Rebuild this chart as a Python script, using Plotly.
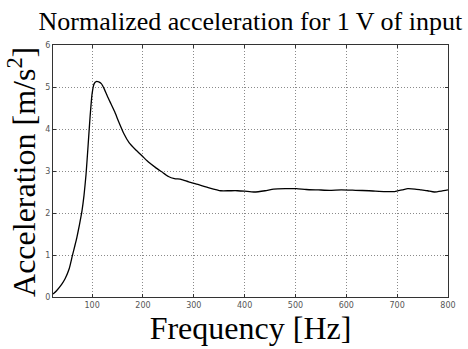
import plotly.graph_objects as go

# Measured frequency response (acceleration per 1 V input)
freq_hz = [23, 30, 40, 47, 55, 61, 66, 70, 75, 80, 84, 88, 92, 96, 100, 104, 108, 113,
           118, 124, 130, 137, 144, 152, 162, 173, 186, 199, 212, 225, 237, 250,
           262, 275, 290, 308, 330, 353, 370, 386, 400, 418, 440, 457, 480, 502,
           521, 545, 567, 590, 618, 645, 676, 695, 710, 721, 735, 747, 760, 773,
           787, 800]
accel = [0.07, 0.15, 0.30, 0.44, 0.68, 0.98, 1.22, 1.42, 1.72, 2.05, 2.42, 2.92, 3.60,
         4.30, 4.85, 5.08, 5.13, 5.12, 5.08, 4.95, 4.78, 4.60, 4.42, 4.18, 3.90,
         3.67, 3.50, 3.35, 3.20, 3.08, 2.98, 2.87, 2.82, 2.80, 2.74, 2.68, 2.60,
         2.53, 2.53, 2.53, 2.52, 2.50, 2.53, 2.57, 2.58, 2.58, 2.56, 2.55, 2.54,
         2.55, 2.54, 2.53, 2.51, 2.51, 2.55, 2.58, 2.57, 2.55, 2.53, 2.50, 2.52,
         2.55]

x_ticks = [100, 200, 300, 400, 500, 600, 700, 800]
y_ticks = [0, 1, 2, 3, 4, 5, 6]

serif = "Liberation Serif, Times New Roman, serif"
tick_font = dict(family="DejaVu Sans, sans-serif", size=8, color="#555555")

fig = go.Figure()
fig.add_trace(go.Scatter(x=freq_hz, y=accel, mode="lines",
                         line=dict(color="black", width=1.3, shape="spline", smoothing=0.5),
                         showlegend=False))

axis_common = dict(showline=True, linecolor="#333333", linewidth=1, mirror="allticks",
                   ticks="inside", ticklen=3, tickcolor="#333333",
                   showgrid=True, gridcolor="#8a8a8a", griddash="1px,2px", gridwidth=1,
                   zeroline=False, tickfont=tick_font)

fig.update_xaxes(range=[23, 800], tickvals=x_ticks,
                 title=dict(text="Frequency [Hz]",
                            font=dict(family=serif, size=32, color="black"), standoff=5),
                 **axis_common)
fig.update_yaxes(range=[0, 6], tickvals=y_ticks, **axis_common)

# Vertical axis label placed as an annotation
fig.add_annotation(text="Acceleration [m/s<sup>2</sup>]", xref="paper", yref="paper",
                   x=(22 - 53) / 401, y=(306 - 176) / 261, textangle=-90,
                   xanchor="center", yanchor="middle", showarrow=False,
                   font=dict(family=serif, size=32, color="black"))

fig.update_layout(
    width=468, height=349,
    margin=dict(l=53, r=14, t=45, b=43),
    paper_bgcolor="white", plot_bgcolor="white",
    title=dict(text="Normalized acceleration for 1 V of input",
               font=dict(family=serif, size=26, color="black"),
               x=0.535, xanchor="center", y=1 - 21 / 349, yanchor="middle", yref="container"),
)

fig.write_html("out.html")
